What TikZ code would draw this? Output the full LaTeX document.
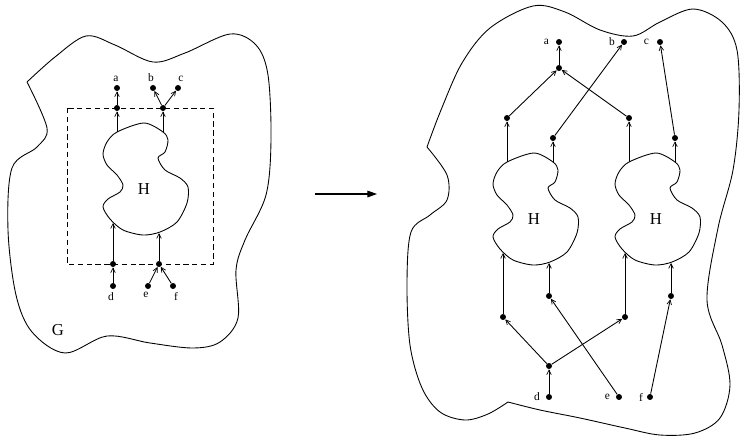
\documentclass[tikz,border=0pt]{standalone}
\usepackage{fontspec}
\setmainfont{Liberation Serif}
\usetikzlibrary{arrows.meta}
\tikzset{
  dot/.style={circle,fill=black,inner sep=0pt,minimum size=3.4pt},
  small/.style={font=\fontsize{6.5}{7}\selectfont,inner sep=1pt},
  biglbl/.style={font=\fontsize{9.5}{10}\selectfont,inner sep=0pt},
  arr/.style={line width=0.5pt,-{Straight Barb[length=2.6pt,width=2.6pt,line width=0.4pt]}},
  blobline/.style={line width=0.5pt},
  bigarr/.style={line width=0.6pt,-{Triangle[length=5.5pt,width=3.8pt]}}
}
\newcommand\HShape[2]{%
\begin{scope}[shift={#2}]
\draw[blobline] plot[smooth cycle, tension=0.5] coordinates {(0,0) (19,9) (24,17) (21,29) (14,35) (21,47) (36,55) (44,64) (43,80) (33,99) (16,109) (-1,112) (-21,107) (-34,96) (-41,84) (-36,76) (-24,69) (-21,62) (-27,52) (-37,42) (-41,31) (-37,19) (-27,9)};
\node[biglbl] (#1lbl) at (0,66) {H};
\coordinate (#1tl) at (-27,9);
\coordinate (#1tr) at (19,9);
\coordinate (#1bl) at (-31,100);
\coordinate (#1br) at (15,110);
\end{scope}}
\begin{document}
\begin{tikzpicture}[x=0.02cm,y=-0.02cm]
\useasboundingbox (0,0) rectangle (741,437);
% ---------- left figure ----------
\draw[blobline] plot[smooth, tension=0.55] coordinates {(27,82) (55,57) (86,36) (115,45) (153,62) (185,53) (230,34) (256,45) (268,75) (271,140) (266,195) (245,240) (236,270) (238,318) (220,342) (193,348) (150,343) (107,336) (65,353) (32,332) (16,295) (8,230) (12,168) (37,147) (47,128) (27,82)};
\node[biglbl] (G) at (58,330) {G};
\draw[line width=0.5pt,dashed,dash pattern=on 3pt off 2pt] (67,108) rectangle (213,264);
\HShape{HL}{(144,123)}
\node[dot] (a) at (117,88) {};
\node[dot] (am) at (117,108) {};
\node[dot] (b) at (153,88) {};
\node[dot] (c) at (178,88) {};
\node[dot] (bc) at (163,108) {};
\node[dot] (dm) at (113,264) {};
\node[dot] (d) at (113,286) {};
\node[dot] (efm) at (159,264) {};
\node[dot] (e) at (148,286) {};
\node[dot] (f) at (173,286) {};
\node[small,anchor=south] (la) at (116,84) {a};
\node[small,anchor=south] (lb) at (151,84) {b};
\node[small,anchor=south] (lc) at (181,84) {c};
\node[small,anchor=north] (ld) at (111,290) {d};
\node[small,anchor=north] (le) at (146,290) {e};
\node[small,anchor=north] (lf) at (176,290) {f};
\draw[arr] (HLtl) -- (am);
\draw[arr] (am) -- (a);
\draw[arr] (HLtr) -- (bc);
\draw[arr] (bc) -- (b);
\draw[arr] (bc) -- (c);
\draw[arr] (d) -- (dm);
\draw[arr] (dm) -- (HLbl);
\draw[arr] (e) -- (efm);
\draw[arr] (f) -- (efm);
\draw[arr] (efm) -- (HLbr);
% ---------- middle arrow ----------
\coordinate (m1) at (315,194);
\coordinate (m2) at (377,194);
\draw[bigarr] (m1) -- (m2);
% ---------- right figure ----------
\draw[blobline] plot[smooth, tension=0.55] coordinates {(427,147) (441,110) (462,63) (490,28) (533,6) (565,12) (600,30) (633,36) (660,22) (693,9) (722,22) (737,50) (739,110) (733,170) (718,228) (707,300) (722,345) (730,385) (720,418) (695,433) (660,435) (625,428) (580,418) (540,410) (508,402)};
\draw[blobline] plot[smooth, tension=0.55] coordinates {(508,402) (488,414) (465,420) (440,412) (422,388) (410,345) (407,283) (411,232) (430,215) (447,200) (447,175) (427,147)};
\HShape{HA}{(534,153)}
\HShape{HB}{(656,153)}
\node[dot] (A) at (559,42) {};
\node[dot] (B) at (624,42) {};
\node[dot] (C) at (660,42) {};
\node[dot] (T) at (559,68) {};
\node[dot] (L1) at (507,118) {};
\node[dot] (R1) at (629,118) {};
\node[dot] (ML) at (553,138) {};
\node[dot] (FR) at (675,138) {};
\node[dot] (L2) at (503,317) {};
\node[dot] (R2) at (625,317) {};
\node[dot] (M2) at (549,296) {};
\node[dot] (F2) at (671,296) {};
\node[dot] (BM) at (549,366) {};
\node[dot] (D) at (549,397) {};
\node[dot] (E) at (619,397) {};
\node[dot] (F) at (650,397) {};
\node[small,anchor=east] (lA) at (551,42) {a};
\node[small,anchor=east] (lB) at (617,42) {b};
\node[small,anchor=east] (lC) at (651,42) {c};
\node[small,anchor=east] (lD) at (542,397) {d};
\node[small,anchor=east] (lE) at (612,397) {e};
\node[small,anchor=east] (lF) at (645,397) {f};
\draw[arr] (HAtl) -- (L1);
\draw[arr] (HAtr) -- (ML);
\draw[arr] (HBtl) -- (R1);
\draw[arr] (HBtr) -- (FR);
\draw[arr] (L1) -- (T);
\draw[arr] (R1) -- (T);
\draw[arr] (T) -- (A);
\draw[arr] (ML) -- (B);
\draw[arr] (FR) -- (C);
\draw[arr] (D) -- (BM);
\draw[arr] (BM) -- (L2);
\draw[arr] (BM) -- (R2);
\draw[arr] (L2) -- (HAbl);
\draw[arr] (M2) -- (HAbr);
\draw[arr] (R2) -- (HBbl);
\draw[arr] (F2) -- (HBbr);
\draw[arr] (E) -- (M2);
\draw[arr] (F) -- (F2);
\end{tikzpicture}
\end{document}
